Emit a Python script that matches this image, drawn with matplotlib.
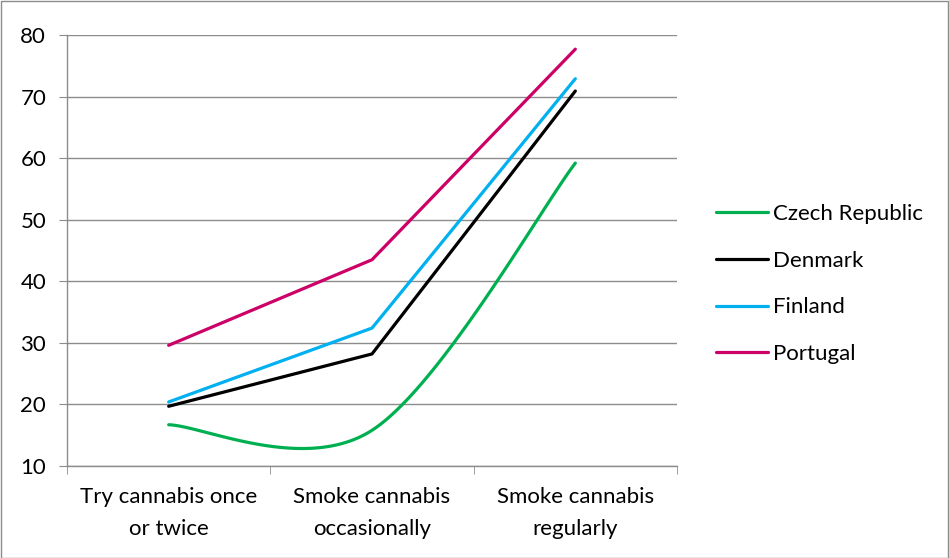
import numpy as np
import matplotlib
matplotlib.use("Agg")
import matplotlib.pyplot as plt
from matplotlib.patches import Rectangle

categories = ["Try cannabis once\nor twice", "Smoke cannabis\noccasionally", "Smoke cannabis\nregularly"]
countries = ["Czech Republic", "Denmark", "Finland", "Portugal"]
czech = [16.7, 15.8, 59.2]
denmark = [19.7, 28.2, 70.9]
finland = [20.4, 32.4, 72.9]
portugal = [29.6, 43.5, 77.7]
colors = ["#00B050", "#000000", "#00B0F0", "#CC0066"]
smooth = [True, False, False, False]


def excel_smooth(x, y, n=60):
    # bezier through points, tangents like catmull-rom (ends duplicated)
    x = np.asarray(x, float)
    y = np.asarray(y, float)
    px = np.concatenate([[x[0]], x, [x[-1]]])
    py = np.concatenate([[y[0]], y, [y[-1]]])
    xs, ys = [], []
    t = np.linspace(0, 1, n)
    for i in range(len(x) - 1):
        a = i + 1
        p0 = np.array([px[a], py[a]])
        p3 = np.array([px[a + 1], py[a + 1]])
        p1 = p0 + (np.array([px[a + 1], py[a + 1]]) - np.array([px[a - 1], py[a - 1]])) / 6
        p2 = p3 - (np.array([px[a + 2], py[a + 2]]) - np.array([px[a], py[a]])) / 6
        b = ((1 - t) ** 3)[:, None] * p0 + (3 * (1 - t) ** 2 * t)[:, None] * p1 \
            + (3 * (1 - t) * t ** 2)[:, None] * p2 + (t ** 3)[:, None] * p3
        xs.extend(b[:, 0])
        ys.extend(b[:, 1])
    return xs, ys


plt.rcParams['font.family'] = ['Lato', 'DejaVu Sans']
fs = 16

fig = plt.figure(figsize=(9.49, 5.58), dpi=100)
ax = fig.add_axes([67 / 949, 92 / 558, 610 / 949, 431 / 558])

x = np.arange(len(categories))
for name, vals, c, sm in zip(countries, [czech, denmark, finland, portugal], colors, smooth):
    if sm:
        xs, ys = excel_smooth(x, vals)
    else:
        xs, ys = x, vals
    ax.plot(xs, ys, color=c, lw=2.3, label=name, solid_capstyle='round', solid_joinstyle='miter')

ax.set_xlim(-0.5, 2.5)
ax.set_ylim(10, 80)
ax.set_yticks(range(10, 81, 10))
ax.grid(axis='y', color='#8c8c8c', lw=1)
ax.set_axisbelow(True)
for s in ['top', 'right']:
    ax.spines[s].set_visible(False)
for s in ['left', 'bottom']:
    ax.spines[s].set_color('#8c8c8c')
    ax.spines[s].set_linewidth(1)

ax.set_xticks(x)
ax.set_xticklabels(categories, fontsize=fs, linespacing=1.75)
ax.set_xticks([-0.5, 0.5, 1.5, 2.5], minor=True)
ax.tick_params(axis='x', which='major', length=0, pad=15)
ax.tick_params(axis='x', which='minor', length=6, color='#8c8c8c', direction='out')
ax.tick_params(axis='y', length=6, color='#8c8c8c', labelsize=fs, pad=9)

fig.legend(loc='center left', bbox_to_anchor=(696 / 949, 1 - 284 / 558), frameon=False,
           fontsize=fs, handlelength=2.35, handletextpad=0.22, labelspacing=1.2)

fig.patches.append(Rectangle((0.5 / 949, 0.5 / 558), 947.5 / 949, 556.5 / 558, transform=fig.transFigure,
                             fill=False, edgecolor='#8c8c8c', lw=1))

fig.savefig("out.png", dpi=100)
